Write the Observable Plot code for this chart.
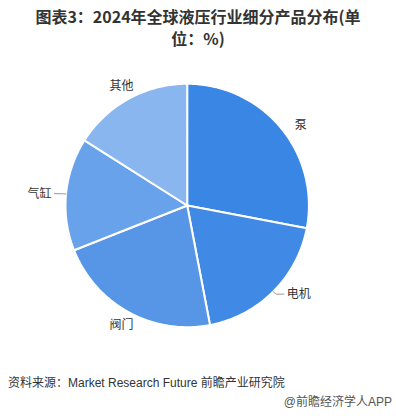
<!DOCTYPE html>
<html>
<head>
<meta charset="utf-8">
<script src="https://cdn.jsdelivr.net/npm/d3@7"></script>
<script src="https://cdn.jsdelivr.net/npm/@observablehq/plot@0.6"></script>
<style>
  html, body { margin: 0; padding: 0; background: #fff; }
  body { width: 396px; height: 416px; overflow: hidden; font-family: "Noto Sans CJK SC", "Noto Sans", sans-serif; }
  #title { box-sizing: border-box; height: 58px; padding-top: 5px; text-align: center; font-size: 16px; line-height: 22px; font-weight: 700; color: #333; }
  #chart { height: 300px; }
  #source { margin-top: 17px; padding-left: 8px; font-size: 12px; line-height: 16px; color: #333; font-family: "Liberation Sans", "Noto Sans CJK SC", sans-serif; }
  #brand { margin-top: 3px; padding-right: 4px; text-align: right; font-size: 12px; line-height: 16px; color: #555; font-family: "Liberation Sans", "Noto Sans CJK SC", sans-serif; }
</style>
</head>
<body>
<div id="title">图表3：2024年全球液压行业细分产品分布(单<br>位：%)</div>
<div id="chart"></div>
<div id="source">资料来源：Market Research Future 前瞻产业研究院</div>
<div id="brand">@前瞻经济学人APP</div>
<script>
const categories = ["泵", "电机", "阀门", "气缸", "其他"];
const shares = [28, 19, 22, 15, 16];
const colors = ["#3a86e4", "#4089e4", "#5796e7", "#68a2ea", "#8ab6ef"];
const leaderLines = ["电机", "阀门", "气缸"];

const arcs = d3.pie().sort(null).value(d => d)(shares);

// slice polygons in unit coordinates
const pts = [];
arcs.forEach((a, i) => {
  const name = categories[i];
  pts.push({name, x: 0, y: 0});
  const n = Math.max(2, Math.ceil((a.endAngle - a.startAngle) / (Math.PI / 180)));
  for (let k = 0; k <= n; k++) {
    const t = a.startAngle + (a.endAngle - a.startAngle) * k / n;
    pts.push({name, x: Math.sin(t), y: Math.cos(t)});
  }
  pts.push({name, x: 0, y: 0});
});

const R = 121.7;
const px = 1 / R;
const labels = [];
const lines = [];
arcs.forEach((a, i) => {
  const name = categories[i];
  const m = (a.startAngle + a.endAngle) / 2;
  const s = Math.sin(m), c = Math.cos(m);
  if (Math.abs(c) > 0.8) {
    labels.push({name, x: 1.12 * s, y: 1.12 * c, anchor: "middle"});
  } else {
    const dir = s >= 0 ? 1 : -1;
    const bx = 1.03 * s, by = 1.03 * c;
    const cx = bx + dir * 8 * px;
    if (leaderLines.includes(name)) {
      lines.push({name, x: 1.0 * s, y: 1.0 * c});
      lines.push({name, x: bx, y: by});
      lines.push({name, x: cx, y: by});
    }
    labels.push({name, x: cx + dir * 3 * px, y: by, anchor: dir > 0 ? "start" : "end"});
  }
});

const cxp = 186.7, cyp = 147;
const chart = Plot.plot({
  width: 396,
  height: 300,
  margin: 0,
  style: {background: "transparent", fontFamily: "'Noto Sans CJK SC', sans-serif"},
  x: {domain: [-1, 1], range: [cxp - R, cxp + R], axis: null},
  y: {domain: [-1, 1], range: [cyp + R, cyp - R], axis: null},
  color: {type: "ordinal", domain: categories, range: colors},
  marks: [
    Plot.line(pts, {x: "x", y: "y", z: "name", fill: "name", stroke: "#ffffff", strokeWidth: 2, strokeLinejoin: "round", curve: "linear"}),
    Plot.line(lines, {x: "x", y: "y", z: "name", stroke: "#9a9a9a", strokeWidth: 1, curve: "linear"}),
    Plot.text(labels.filter(d => d.anchor === "start"), {x: "x", y: "y", text: "name", textAnchor: "start", fontSize: 12, fill: "#333"}),
    Plot.text(labels.filter(d => d.anchor === "end"), {x: "x", y: "y", text: "name", textAnchor: "end", fontSize: 12, fill: "#333"}),
    Plot.text(labels.filter(d => d.anchor === "middle"), {x: "x", y: "y", text: "name", textAnchor: "middle", fontSize: 12, fill: "#333"})
  ]
});
document.getElementById("chart").appendChild(chart);
</script>
</body>
</html>
